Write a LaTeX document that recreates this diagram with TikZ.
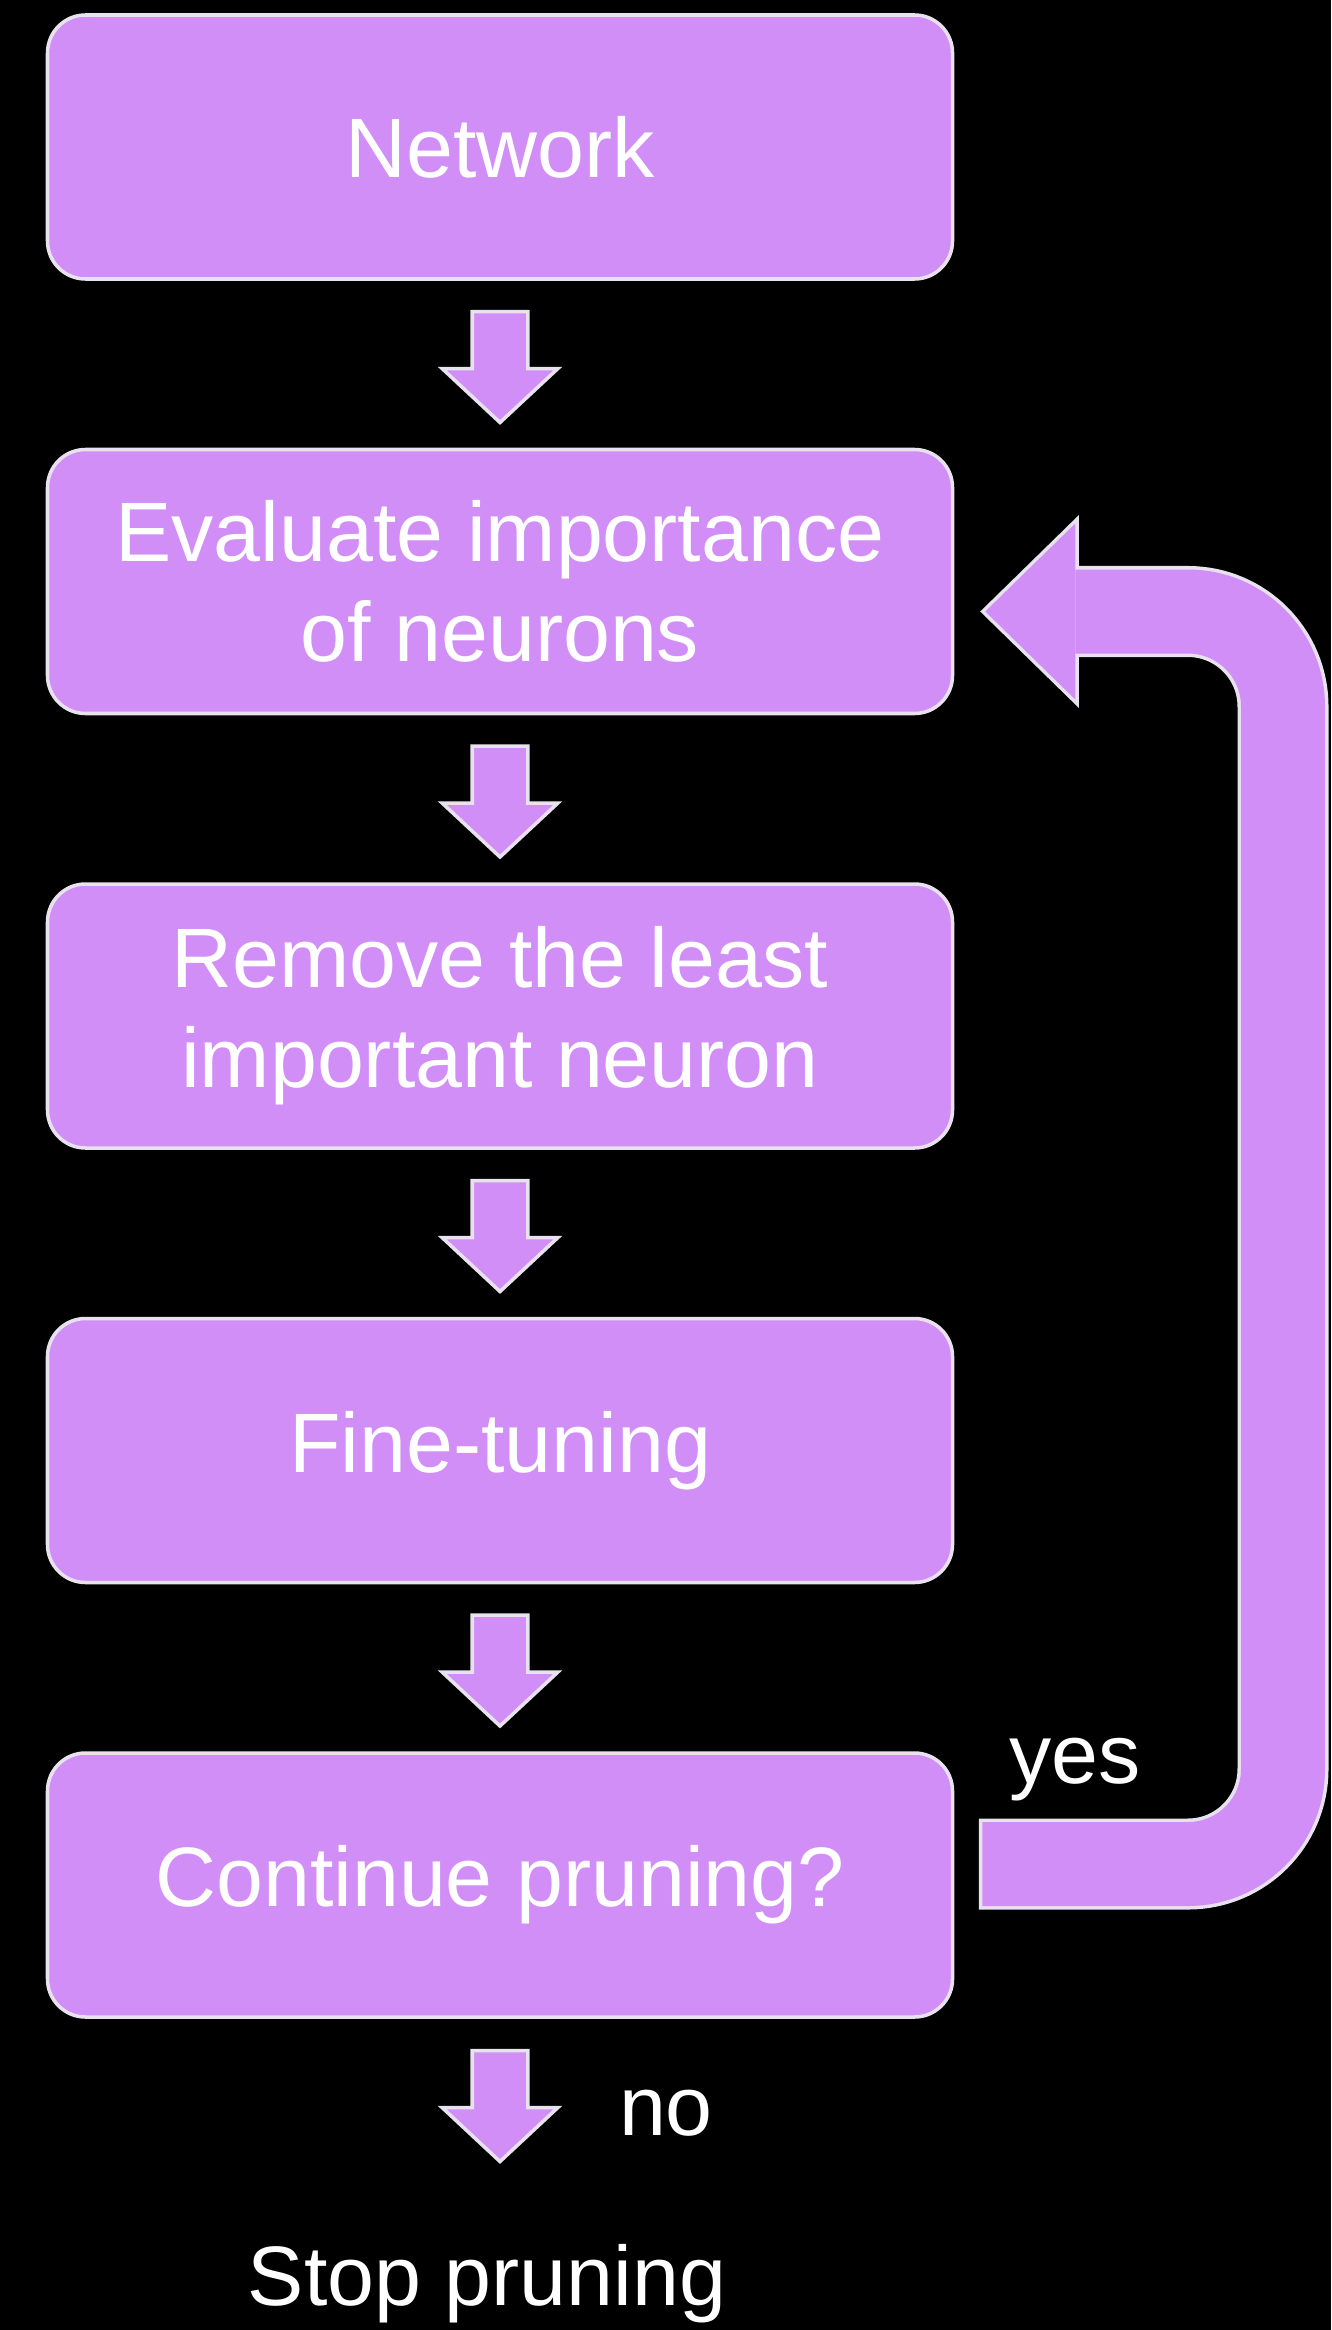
\documentclass[tikz,border=0pt]{standalone}
\usepackage{fontspec}
\setmainfont{Liberation Sans}
\usepackage{tikz}
\usetikzlibrary{positioning,calc,shapes.arrows}

\definecolor{boxfill}{RGB}{210,142,247}
\definecolor{edgecol}{RGB}{232,226,238}

\begin{document}
\begin{tikzpicture}[node distance={4.345cm}, line width=1pt,
        main/.style = {draw=edgecol, fill=boxfill, rounded corners=0.38cm, minimum width=9.05cm, minimum height=2.64cm, align=center, text=white, font=\fontsize{24}{28.5}\selectfont},
        flow/.style = {single arrow, draw=edgecol, fill=boxfill, rotate=-90, anchor=tail, inner xsep=0pt, inner ysep=0.26cm, minimum height=1.11cm, single arrow head extend=0.30cm, single arrow tip angle=94},
        lbl/.style = {text=white, anchor=base, font=\fontsize{24}{28.5}\selectfont}]
        \fill[black] (0,0) rectangle (13.31,-23.30);
        \useasboundingbox (0,0) rectangle (13.31,-23.30);

        \node[main] (net) at (5.0,-1.47) {Network};
        \node[main] (eval) [below of=net] {Evaluate importance\\of neurons};
        \node[main] (rem) [below of=eval] {Remove the least\\important neuron};
        \node[main] (fine) [below of=rem] {Fine-tuning};
        \node[main] (cont) [below of=fine] {Continue pruning?};

        \node[flow] at ($(net.south)+(0,-0.29)$) {};
        \node[flow] at ($(eval.south)+(0,-0.29)$) {};
        \node[flow] at ($(rem.south)+(0,-0.29)$) {};
        \node[flow] at ($(fine.south)+(0,-0.29)$) {};
        \node[flow] (out) at ($(cont.south)+(0,-0.30)$) {};

        % loop back arrow
        \coordinate (yesstart) at ($(cont.east)+(0.28,0.21)$);
        \coordinate (tip) at ($(eval.east)+(0.31,-0.30)$);
        \coordinate (hb) at ($(tip)+(0.90,0)$);
        \coordinate (rc) at (12.83,0);
        \draw[edgecol, line width=0.84cm+2pt, rounded corners=0.95cm, shorten <=-1pt] (yesstart) -| (rc|-hb) -- (hb);
        \filldraw[edgecol, line width=2pt, line join=miter] (tip) -- ($(hb)+(0,0.88)$) -- ($(hb)+(0,-0.88)$) -- cycle;
        \draw[boxfill, line width=0.84cm, rounded corners=0.95cm] (yesstart) -| (rc|-hb) -- (hb);
        \fill[boxfill] (tip) -- ($(hb)+(0,0.88)$) -- ($(hb)+(0,-0.88)$) -- cycle;

        \node[lbl] (yes) at (10.75,-17.83) {yes};
        \node[lbl] (no) at (6.66,-21.35) {no};
        \node[lbl] (stop) at (4.87,-23.05) {Stop pruning};

    \end{tikzpicture}
\end{document}
